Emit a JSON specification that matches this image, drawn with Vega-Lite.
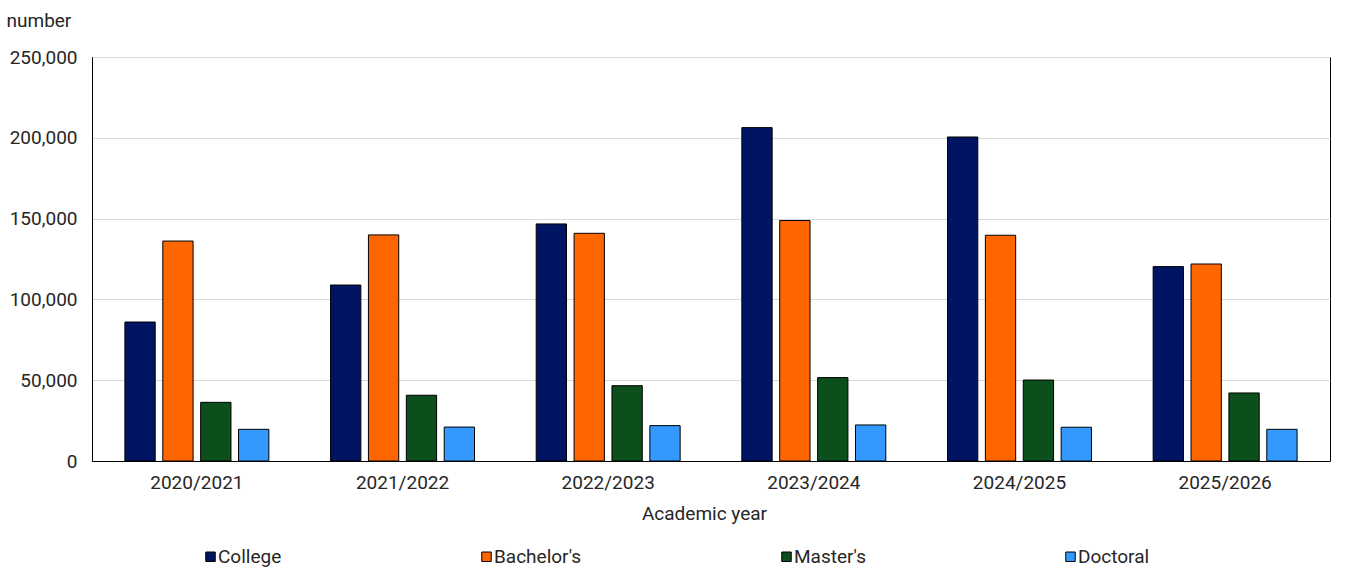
{
  "$schema": "https://vega.github.io/schema/vega-lite/v6.json",
  "width": 1238,
  "height": 404,
  "autosize": "none",
  "padding": {"left": 92, "top": 57, "right": 17, "bottom": 109},
  "background": "white",
  "config": {
    "font": "Roboto",
    "view": {"stroke": "black", "strokeWidth": 1},
    "axis": {"labelFont": "Roboto", "titleFont": "Roboto", "labelColor": "#262626", "titleColor": "#262626"},
    "legend": {"labelFont": "Roboto"}
  },
  "data": {
    "values": [
      {"year": "2020/2021", "level": "College", "count": 86000},
      {"year": "2020/2021", "level": "Bachelor's", "count": 136100},
      {"year": "2020/2021", "level": "Master's", "count": 36300},
      {"year": "2020/2021", "level": "Doctoral", "count": 19600},
      {"year": "2021/2022", "level": "College", "count": 108900},
      {"year": "2021/2022", "level": "Bachelor's", "count": 139900},
      {"year": "2021/2022", "level": "Master's", "count": 40700},
      {"year": "2021/2022", "level": "Doctoral", "count": 21000},
      {"year": "2022/2023", "level": "College", "count": 146700},
      {"year": "2022/2023", "level": "Bachelor's", "count": 140900},
      {"year": "2022/2023", "level": "Master's", "count": 46600},
      {"year": "2022/2023", "level": "Doctoral", "count": 21900},
      {"year": "2023/2024", "level": "College", "count": 206300},
      {"year": "2023/2024", "level": "Bachelor's", "count": 148800},
      {"year": "2023/2024", "level": "Master's", "count": 51600},
      {"year": "2023/2024", "level": "Doctoral", "count": 22300},
      {"year": "2024/2025", "level": "College", "count": 200500},
      {"year": "2024/2025", "level": "Bachelor's", "count": 139700},
      {"year": "2024/2025", "level": "Master's", "count": 50100},
      {"year": "2024/2025", "level": "Doctoral", "count": 20900},
      {"year": "2025/2026", "level": "College", "count": 120300},
      {"year": "2025/2026", "level": "Bachelor's", "count": 121900},
      {"year": "2025/2026", "level": "Master's", "count": 42100},
      {"year": "2025/2026", "level": "Doctoral", "count": 19600}
    ]
  },
  "mark": {"type": "bar", "stroke": "black", "strokeWidth": 1},
  "encoding": {
    "x": {
      "field": "year",
      "type": "nominal",
      "scale": {"paddingInner": 0.3, "paddingOuter": 0.16},
      "axis": {
        "title": "Academic year",
        "titleFontSize": 19,
        "titleFontWeight": "normal",
        "titlePadding": 12,
        "titleX": 612,
        "titleAnchor": null,
        "titleAlign": "center",
        "labelAngle": 0,
        "labelFontSize": 19,
        "labelPadding": 12,
        "ticks": false,
        "domainColor": "black"
      }
    },
    "xOffset": {
      "field": "level",
      "type": "nominal",
      "sort": ["College", "Bachelor's", "Master's", "Doctoral"],
      "scale": {"paddingInner": 0.2, "paddingOuter": 0}
    },
    "y": {
      "field": "count",
      "type": "quantitative",
      "scale": {"domain": [0, 250000], "nice": false},
      "axis": {
        "title": "number",
        "titleAngle": 0,
        "titleAlign": "left",
        "titleBaseline": "middle",
        "titleX": -86,
        "titleY": -37,
        "titleFontSize": 19,
        "titleFontWeight": "normal",
        "values": [0, 50000, 100000, 150000, 200000, 250000],
        "format": ",d",
        "labelFontSize": 19,
        "labelPadding": 15,
        "ticks": false,
        "domainColor": "black",
        "gridColor": "#d9d9d9",
        "gridWidth": 1
      }
    },
    "color": {
      "field": "level",
      "type": "nominal",
      "sort": ["College", "Bachelor's", "Master's", "Doctoral"],
      "scale": {
        "domain": ["College", "Bachelor's", "Master's", "Doctoral"],
        "range": ["#001464", "#ff6600", "#0d4f1c", "#3399ff"]
      },
      "legend": {
        "title": null,
        "orient": "none",
        "direction": "horizontal",
        "columns": 4,
        "legendX": 109,
        "legendY": 490,
        "symbolType": "square",
        "symbolSize": 90,
        "symbolStrokeColor": "black",
        "symbolStrokeWidth": 1,
        "symbolOffset": 0,
        "labelOffset": -2,
        "labelFontSize": 19,
        "labelColor": "#262626",
        "columnPadding": 195
      }
    }
  }
}
